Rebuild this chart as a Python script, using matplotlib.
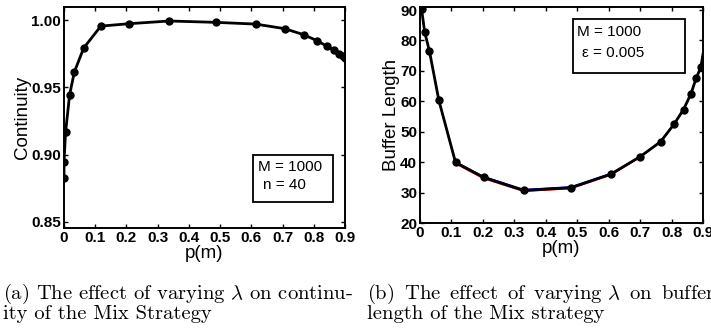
import matplotlib
matplotlib.use('Agg')
import matplotlib.pyplot as plt
from matplotlib.patches import Rectangle
from matplotlib.ticker import FixedLocator, FormatStrFormatter

# (a) continuity vs p(m)
p_cont = [0.0, 0.0, 0.005, 0.018, 0.033, 0.063, 0.118, 0.209, 0.337, 0.486,
          0.614, 0.707, 0.768, 0.811, 0.841, 0.864, 0.881, 0.892, 0.9]
continuity = [0.8826, 0.8948, 0.9166, 0.9445, 0.9613, 0.9792, 0.9955, 0.9973, 0.9993, 0.9983,
              0.9970, 0.9936, 0.9891, 0.9846, 0.9807, 0.9777, 0.9750, 0.9730, 0.9720]

# (b) buffer length vs p(m)
p_buf = [0.005, 0.015, 0.03, 0.06, 0.113, 0.202, 0.33, 0.48, 0.608, 0.70,
         0.765, 0.808, 0.838, 0.861, 0.878, 0.893, 0.9]
buffer_len = [90.3, 82.7, 76.5, 60.3, 39.9, 35.0, 30.7, 31.6, 36.1, 41.8,
              46.7, 52.5, 57.3, 62.3, 67.5, 71.2, 75.5]
buffer_red = [90.3, 82.7, 76.5, 60.3, 39.5, 34.6, 30.4, 31.3, 35.8, 41.6,
              46.6, 52.4, 57.3, 62.3, 67.5, 71.2, 75.5]
buffer_blue = [90.3, 82.7, 76.5, 60.3, 40.1, 35.3, 31.0, 31.9, 36.3, 41.9,
               46.8, 52.5, 57.3, 62.3, 67.5, 71.2, 75.5]

xticks = [0, 0.1, 0.2, 0.3, 0.4, 0.5, 0.6, 0.7, 0.8, 0.9]
xticklabels = ['0', '0.1', '0.2', '0.3', '0.4', '0.5', '0.6', '0.7', '0.8', '0.9']

plt.rcParams['font.family'] = ['Liberation Sans', 'DejaVu Sans']
plt.rcParams['mathtext.fontset'] = 'cm'

fig = plt.figure(figsize=(7.11, 3.31), dpi=100)
W, H = 711.0, 331.0


def style_axes(ax):
    for s in ax.spines.values():
        s.set_linewidth(1.4)
    ax.tick_params(direction='in', top=True, right=True, length=3, width=1,
                   labelsize=11, pad=2)
    ax.set_xticks(xticks)
    ax.set_xticklabels(xticklabels)
    ax.set_xlabel('p(m)', fontsize=13.5, labelpad=0)
    for lab in ax.get_xticklabels() + ax.get_yticklabels():
        lab.set_fontweight('bold')


def note_box(ax, x0, y0, x1, y1, lines, tx, ty):
    ax.add_patch(Rectangle((x0, y0), x1 - x0, y1 - y0, transform=ax.transAxes,
                           fc='white', ec='black', lw=1.3, zorder=5))
    for (s, dx), yy in zip(lines, ty):
        ax.text(tx + dx, yy, s, transform=ax.transAxes, fontsize=11,
                va='center', ha='left', zorder=6)


ax1 = fig.add_axes([64 / W, 1 - 228 / H, (345 - 64) / W, (228 - 7) / H])
ax1.plot(p_cont, continuity, color='black', lw=2, marker='o', ms=5)
ax1.set_xlim(0, 0.9)
ax1.set_ylim(0.8455, 1.0097)
ax1.yaxis.set_major_locator(FixedLocator([0.85, 0.90, 0.95, 1.00]))
ax1.yaxis.set_major_formatter(FormatStrFormatter('%.2f'))
ax1.set_ylabel('Continuity', fontsize=13.5, labelpad=0)
style_axes(ax1)
note_box(ax1, 0.673, 0.118, 0.957, 0.330,
         [('M = 1000', 0.0), ('n = 40', 0.018)], 0.69, [0.276, 0.195])

ax2 = fig.add_axes([420 / W, 1 - 223 / H, (703 - 420) / W, (223 - 7) / H])
ax2.plot(p_buf, buffer_red, color='red', lw=1)
ax2.plot(p_buf, buffer_blue, color='blue', lw=1)
ax2.plot(p_buf[:-1], buffer_len[:-1], color='black', lw=2, marker='o', ms=5, ls='none')
ax2.plot(p_buf, buffer_len, color='black', lw=2)
ax2.set_xlim(0, 0.9)
ax2.set_ylim(20, 91)
ax2.set_yticks([20, 30, 40, 50, 60, 70, 80, 90])
ax2.set_ylabel('Buffer Length', fontsize=13.5, labelpad=0)
style_axes(ax2)
note_box(ax2, 0.541, 0.694, 0.936, 0.944,
         [('M = 1000', 0.0), ('ε = 0.005', 0.018)], 0.555, [0.885, 0.785])

cap = dict(fontsize=14.8, family=['cmr10', 'DejaVu Serif'], va='baseline', ha='left')
fig.text(3 / W, 1 - 298.5 / H, r'(a) The effect of varying $\lambda$ on continu-', **cap)
fig.text(3 / W, 1 - 319 / H, 'ity of the Mix Strategy', **cap)
fig.text(367 / W, 1 - 298.5 / H,
         r'(b) $\,$The $\,$effect $\,$of $\,$varying $\lambda$ $\,$on $\,$buffer', **cap)
fig.text(367 / W, 1 - 319 / H, 'length of the Mix strategy', **cap)

fig.savefig('out.png', dpi=100)
